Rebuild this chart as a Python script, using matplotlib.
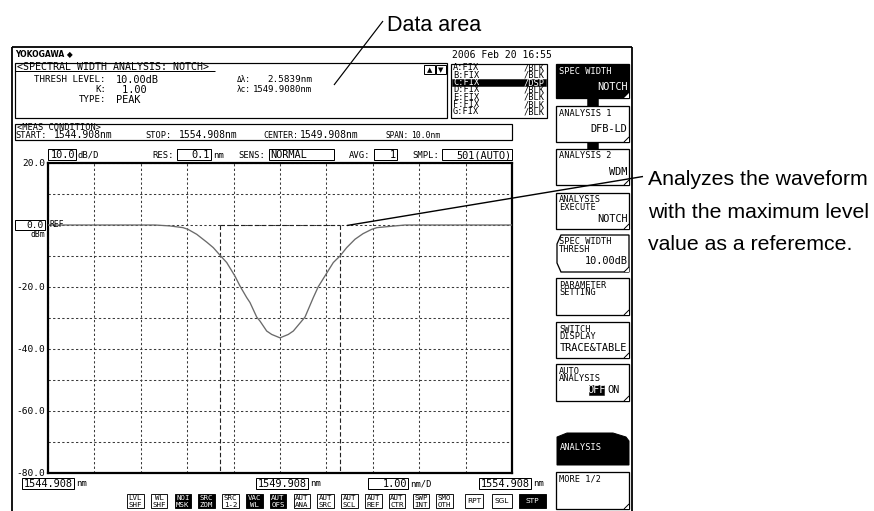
import matplotlib
matplotlib.use("Agg")
import matplotlib.pyplot as plt
from matplotlib.patches import Rectangle, Polygon
import numpy as np

# ---------------- data ----------------
wavelength_nm = [1544.908, 1547.214, 1547.537, 1547.817, 1547.925, 1548.113, 1548.335, 1548.470,
                 1548.630, 1548.759, 1548.938, 1549.046, 1549.190, 1549.261, 1549.406, 1549.477,
                 1549.621, 1549.729, 1549.908, 1550.087, 1550.195, 1550.447, 1550.626, 1550.733,
                 1551.057, 1551.201, 1551.345, 1551.524, 1551.697, 1551.884, 1551.998, 1552.386,
                 1552.602, 1554.908]
level_dbm = [0, 0, -0.3, -0.85, -1.4, -3.0, -5.6, -7.3, -10, -12.1,
             -16.5, -19.7, -23.4, -25, -29.7, -31, -34.2, -35.3, -36.4,
             -35.3, -34.2, -29.7, -23.4, -19.9, -12.1, -10, -7.3, -4.6, -2.8,
             -1.4, -0.85, -0.3, 0, 0]

x_start, x_center, x_stop = 1544.908, 1549.908, 1554.908
x_per_div = 1.00
y_top, y_bottom, y_per_div = 20.0, -80.0, 10.0
ref_level = 0.0
notch_center = 1549.9080
notch_width = 2.5839
thresh_db = 10.00

y_label_values = [20.0, -20.0, -40.0, -60.0, -80.0]
x_label_texts = ["1544.908", "1549.908", "1.00", "1554.908"]

trace_names = ["A:FIX", "B:FIX", "C:FIX", "D:FIX", "E:FIX", "F:FIX", "G:FIX"]
trace_modes = ["/BLK", "/BLK", "/DSP", "/BLK", "/BLK", "/BLK", "/BLK"]

bottom_keys = [("LVL", "SHF"), ("WL", "SHF"), ("NOI", "MSK"), ("SRC", "ZOM"), ("SRC", "1-2"),
               ("VAC", "WL"), ("AUT", "OFS"), ("AUT", "ANA"), ("AUT", "SRC"), ("AUT", "SCL"),
               ("AUT", "REF"), ("AUT", "CTR"), ("SWP", "INT"), ("SMO", "OTH")]
bottom_keys_on = [False, False, True, True, False, True, True, False, False, False,
                  False, False, False, False]

# ---------------- figure ----------------
W, H = 874, 511
fig = plt.figure(figsize=(W / 100, H / 100), dpi=100)
fig.patch.set_facecolor("white")

ov = fig.add_axes([0, 0, 1, 1])
ov.set_xlim(0, W)
ov.set_ylim(H, 0)
ov.axis("off")
ov.set_zorder(5)

MONO = "DejaVu Sans Mono"
SANS = "Liberation Sans"
S = 6.4   # small screen font
L = 7.4   # large screen font
PX = 0.72  # 1 px in points


def t(x, y, s, size=S, ha="left", color="k", family=MONO, va="center", **kw):
    ov.text(x, y, s, fontsize=size, ha=ha, va=va, color=color, family=family, **kw)


def rect(x0, y0, x1, y1, fc="white", ec="black", lw=1.0, z=1):
    ov.add_patch(Rectangle((x0, y0), x1 - x0, y1 - y0, fc=fc, ec=ec, lw=lw * PX, zorder=z))


def line(xs, ys, lw=1.0, color="k", **kw):
    ov.plot(xs, ys, color=color, lw=lw * PX, solid_capstyle="butt", **kw)


# ---- outer screen frame ----
line([12, 12], [47, 511], lw=1.8)
line([12, 632], [47, 47], lw=1.8)
line([632, 632], [47, 511], lw=1.8)

# ---- header ----
t(15, 53.5, "YOKOGAWA \u25C6", size=5.5, family="DejaVu Sans", fontweight="bold")
t(452, 55, "2006 Feb 20 16:55", size=7.0)

# analysis data box
rect(15, 63, 447, 118, lw=1.2)
line([15, 215], [71.5, 71.5], lw=1.0)
t(17, 67, "<SPECTRAL WIDTH ANALYSIS: NOTCH>", size=7.2)
t(106, 80, "THRESH LEVEL:", ha="right", size=6.6)
t(116, 80, f"{thresh_db:.2f}dB", size=L)
t(106, 90, "K:", ha="right", size=6.6)
t(116, 90, " 1.00", size=L)
t(106, 100, "TYPE:", ha="right", size=6.6)
t(116, 100, "PEAK", size=L)
t(237, 80, "\u0394\u03bb:", size=5.6)
t(312, 80, f"{notch_width:.4f}nm", size=6.7, ha="right")
t(237, 90, "\u03bbc:", size=5.6)
t(312, 90, f"{notch_center:.4f}nm", size=6.5, ha="right")
rect(424, 65.5, 434.5, 74, lw=1.0)
rect(435.5, 65.5, 446, 74, lw=1.0)
t(429.3, 70, "\u25B2", size=5, ha="center", family="DejaVu Sans")
t(440.8, 70, "\u25BC", size=5, ha="center", family="DejaVu Sans")

# trace list box
rect(451, 64, 547, 118, lw=1.2)
for i, (nm, md) in enumerate(zip(trace_names, trace_modes)):
    yy = 68 + i * 7.3
    col = "k"
    if md == "/DSP":
        rect(452, yy - 3.6, 546, yy + 3.6, fc="black", ec="black", lw=0.5)
        col = "white"
    t(453, yy, nm, size=6.2, color=col)
    t(545, yy, md, size=6.2, ha="right", color=col)

# measurement condition box
rect(15, 124, 512, 140.5, lw=1.2)
t(17, 127.6, "<MEAS CONDITION>", size=6.2)
t(15, 135.4, "START:", size=6.2)
t(113, 135.4, f"{x_start:.3f}nm", size=7.0, ha="right")
t(145, 135.4, "STOP:", size=6.2)
t(238, 135.4, f"{x_stop:.3f}nm", size=7.0, ha="right")
t(263, 135.4, "CENTER:", size=6.0)
t(300, 135.4, f"{x_center:.3f}nm", size=7.0)
t(385, 135.4, "SPAN:", size=5.6)
t(440, 135.4, f"{x_stop - x_start:.1f}nm", size=5.8, ha="right")

# plot header row
rect(48, 149.5, 76, 160, lw=1.0)
t(75, 155, f"{y_per_div:.1f}", size=L, ha="right")
t(78, 155, "dB/D", size=S)
t(152, 155, "RES:", size=S)
rect(177, 149.5, 211, 160, lw=1.0)
t(210, 155, "0.1", size=L, ha="right")
t(213, 155, "nm", size=S)
t(238, 155, "SENS:", size=S)
rect(269, 149.5, 334, 160, lw=1.0)
t(270, 155, "NORMAL", size=L)
t(349, 155, "AVG:", size=S)
rect(374, 149.5, 397, 160, lw=1.0)
t(396, 155, "1", size=L, ha="right")
t(412, 155, "SMPL:", size=S)
rect(442, 149.5, 512, 160, lw=1.0)
t(511, 155, "501(AUTO)", size=L, ha="right")

# ---------------- main trace axes ----------------
AX0, AX1, AY0, AY1 = 48, 512, 163, 473
ax = fig.add_axes([AX0 / W, 1 - AY1 / H, (AX1 - AX0) / W, (AY1 - AY0) / H])
ax.set_xlim(x_start, x_stop)
ax.set_ylim(y_bottom, y_top)
ax.set_xticks(np.arange(x_start, x_stop + 1e-6, x_per_div))
ax.set_yticks(np.arange(y_bottom, y_top + 1e-6, y_per_div))
ax.tick_params(length=0, labelbottom=False, labelleft=False)
ax.grid(True, color="#3a3a3a", lw=0.75, ls=(0, (2.2, 2.2)))
for sp in ax.spines.values():
    sp.set_linewidth(1.6)
ax.set_facecolor("white")

ax.plot(wavelength_nm, level_dbm, color="#6a6a6a", lw=0.95, zorder=4)
m1 = notch_center - notch_width / 2
m2 = notch_center + notch_width / 2
for m in (m1, m2):
    ax.plot([m, m], [ref_level, y_bottom], color="#222222", lw=0.8, ls=(0, (4, 2.2)), zorder=3)
ax.plot([m1, m2], [ref_level, ref_level], color="#222222", lw=0.8, ls=(0, (4, 2.2)), zorder=3)


def ypx(v):
    return AY0 + (y_top - v) / (y_top - y_bottom) * (AY1 - AY0)


# y labels
for v in y_label_values:
    t(45, ypx(v), f"{v:.1f}", size=6.8, ha="right")
rect(15, ypx(ref_level) - 4.8, 45, ypx(ref_level) + 5, lw=1.0)
t(44, ypx(ref_level), f"{ref_level:.1f}", size=6.8, ha="right")
t(50, ypx(ref_level) - 0.5, "REF", size=5.8)
t(45, ypx(ref_level) + 9.5, "dBm", size=5.8, ha="right")

# x labels row
xl_y = 484
xl_boxes = [(22, 74, "nm"), (256, 308, "nm"), (368, 408, "nm/D"), (479, 531, "nm")]
for (a, b, unit), txt in zip(xl_boxes, x_label_texts):
    rect(a, xl_y - 5.5, b, xl_y + 5.5, lw=1.0)
    t(b - 1, xl_y, txt, size=L, ha="right")
    t(b + 2, xl_y, unit, size=S)

# bottom key row
bx0, bpitch, bw = 127, 23.8, 16.5
for i, ((a, b), on) in enumerate(zip(bottom_keys, bottom_keys_on)):
    x0 = bx0 + i * bpitch
    rect(x0, 494, x0 + bw, 508.5, fc="black" if on else "white", lw=0.9)
    c = "white" if on else "black"
    t(x0 + bw / 2, 498.3, a, size=5.3, ha="center", color=c)
    t(x0 + bw / 2, 504.8, b, size=5.3, ha="center", color=c)
for (a, b, txt, on) in [(465, 483, "RPT", False), (492, 512, "SGL", False), (519, 546, "STP", True)]:
    rect(a, 494, b, 508.5, fc="black" if on else "white", lw=0.9)
    t((a + b) / 2, 501.3, txt, size=5.3, ha="center", family="DejaVu Sans",
      color="white" if on else "black")

# ---------------- soft keys ----------------
KX0, KX1 = 556, 629


def fold(y1):
    ov.add_patch(Polygon([(KX1 - 5, y1), (KX1, y1 - 5), (KX1, y1)], closed=True,
                         fc="white", ec="none", zorder=3))
    line([KX1 - 5, KX1], [y1, y1 - 5], lw=1.0, zorder=4)


softkeys = [
    (64, 98, ["SPEC WIDTH"], "NOTCH", True),
    (106, 142, ["ANALYSIS 1"], "DFB-LD", False),
    (149, 185, ["ANALYSIS 2"], "WDM", False),
    (193, 229, ["ANALYSIS", "EXECUTE"], "NOTCH", False),
    (235, 272, ["SPEC WIDTH", "THRESH"], "10.00dB", False),
    (278, 315, ["PARAMETER", "SETTING"], "", False),
    (322, 358, ["SWITCH", "DISPLAY"], "TRACE&TABLE", False),
    (364, 401, ["AUTO", "ANALYSIS"], None, False),
    (472, 509, ["MORE 1/2"], "", False),
]
for (y0, y1, labels, value, dark) in softkeys:
    if labels[0] == "SPEC WIDTH" and not dark:
        ov.add_patch(Polygon([(561, y0), (KX1, y0), (KX1, y1), (561, y1), (557, y1 - 9), (557, y0 + 9)],
                             closed=True, fc="white", ec="black", lw=1.3 * PX, zorder=2))
    else:
        rect(KX0, y0, KX1, y1, fc="black" if dark else "white", lw=1.3, z=2)
    col = "white" if dark else "black"
    for j, lab in enumerate(labels):
        t(559, y0 + 7 + j * 7.5, lab, size=6.2, color=col, zorder=5)
    if value:
        t(KX1 - 1.5, y0 + 23 if len(labels) == 1 else y0 + 26, value, size=L, ha="right",
          color=col, zorder=5)
    if value is None:
        rect(589, y0 + 21, 604, y0 + 31, fc="black", ec="black", lw=0.5, z=4)
        t(596.5, y0 + 26, "OFF", size=L, ha="center", color="white", zorder=5)
        t(607, y0 + 26, "ON", size=L, color="black", zorder=5)
    if not dark:
        fold(y1)
    else:
        ov.add_patch(Polygon([(KX1 - 5, y1), (KX1, y1 - 5), (KX1, y1)], closed=True,
                             fc="white", ec="none", zorder=3))

# connectors
rect(587, 98, 598, 106, fc="black", ec="black", lw=0.5)
rect(587, 142, 598, 149, fc="black", ec="black", lw=0.5)

# ANALYSIS tab
ov.add_patch(Polygon([(557, 437), (567, 433), (613, 433), (626, 437), (629, 441), (629, 465), (557, 465)],
                     closed=True, fc="black", ec="black", lw=1 * PX, zorder=2))
t(560, 447, "ANALYSIS", size=6.2, color="white", zorder=5)

# ---------------- annotations ----------------
line([383, 334], [21, 85], lw=1.2)
t(387, 30.7, "Data area", size=15.5, family=SANS, va="baseline")
line([347, 643], [225.5, 176.5], lw=1.4, zorder=6)
t(648, 185, "Analyzes the waveform", size=15.3, family=SANS, va="baseline")
t(648, 217.5, "with the maximum level", size=15.3, family=SANS, va="baseline")
t(648, 250, "value as a referemce.", size=15.3, family=SANS, va="baseline")

fig.savefig("out.png", dpi=100, facecolor="white")
